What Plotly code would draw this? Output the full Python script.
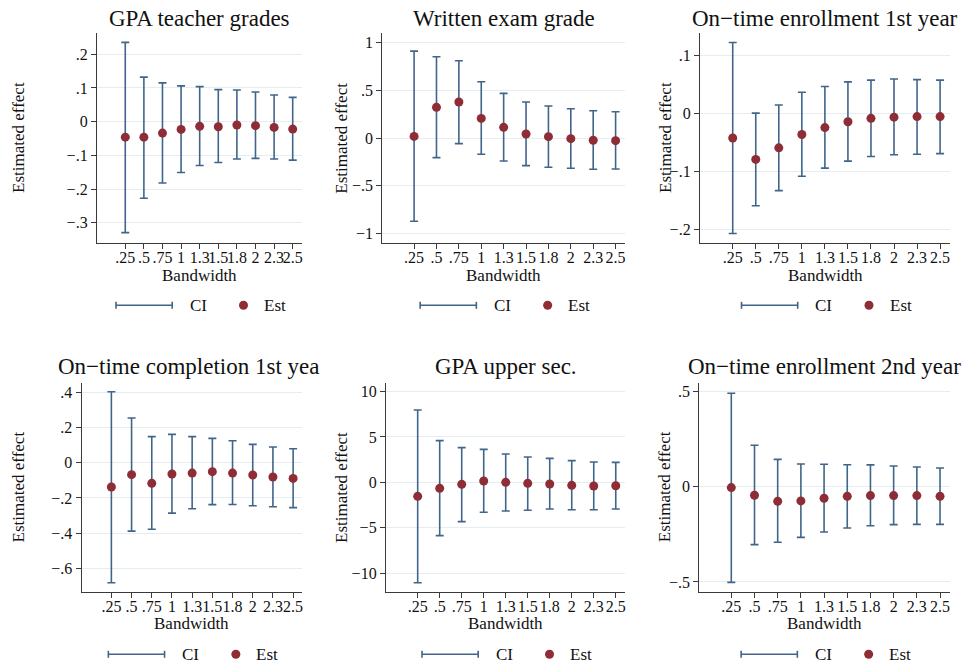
import plotly.graph_objects as go

W, H = 967, 668

bandwidth_labels = [".25", ".5", ".75", "1", "1.3", "1.5", "1.8", "2", "2.3", "2.5"]

# Panel 1: GPA teacher grades
gpa_teacher_est = [-0.046, -0.046, -0.034, -0.023, -0.014, -0.015, -0.010, -0.012, -0.017, -0.022]
gpa_teacher_lo = [-0.329, -0.227, -0.182, -0.151, -0.130, -0.121, -0.111, -0.109, -0.111, -0.114]
gpa_teacher_hi = [0.235, 0.132, 0.115, 0.106, 0.104, 0.095, 0.094, 0.088, 0.079, 0.072]

# Panel 2: Written exam grade
written_est = [0.017, 0.322, 0.378, 0.206, 0.112, 0.042, 0.014, -0.007, -0.024, -0.028]
written_lo = [-0.874, -0.206, -0.059, -0.171, -0.241, -0.290, -0.308, -0.318, -0.329, -0.325]
written_hi = [0.913, 0.853, 0.811, 0.591, 0.469, 0.378, 0.336, 0.308, 0.287, 0.276]

# Panel 3: On-time enrollment 1st year
enroll1_est = [-0.042, -0.079, -0.059, -0.036, -0.024, -0.014, -0.008, -0.006, -0.005, -0.005]
enroll1_lo = [-0.207, -0.159, -0.133, -0.108, -0.094, -0.082, -0.074, -0.071, -0.070, -0.069]
enroll1_hi = [0.123, 0.001, 0.015, 0.037, 0.047, 0.055, 0.058, 0.060, 0.059, 0.058]

# Panel 4: On-time completion 1st year
complete1_est = [-0.138, -0.068, -0.117, -0.064, -0.059, -0.051, -0.059, -0.070, -0.081, -0.089]
complete1_lo = [-0.681, -0.388, -0.378, -0.286, -0.261, -0.238, -0.237, -0.244, -0.250, -0.255]
complete1_hi = [0.403, 0.254, 0.148, 0.161, 0.148, 0.138, 0.125, 0.104, 0.089, 0.079]

# Panel 5: GPA upper sec.
gpa_upper_est = [-1.54, -0.66, -0.22, 0.15, 0.00, -0.11, -0.18, -0.33, -0.40, -0.37]
gpa_upper_lo = [-11.05, -5.87, -4.33, -3.30, -3.16, -3.08, -2.94, -3.01, -3.01, -2.94]
gpa_upper_hi = [7.96, 4.59, 3.82, 3.63, 3.12, 2.79, 2.64, 2.39, 2.24, 2.20]

# Panel 6: On-time enrollment 2nd year
enroll2_est = [-0.005, -0.045, -0.077, -0.075, -0.061, -0.051, -0.047, -0.047, -0.047, -0.051]
enroll2_lo = [-0.502, -0.304, -0.292, -0.266, -0.238, -0.217, -0.205, -0.199, -0.198, -0.198]
enroll2_hi = [0.490, 0.217, 0.143, 0.119, 0.117, 0.115, 0.114, 0.108, 0.103, 0.098]

panel_titles = ["GPA teacher grades", "Written exam grade", "On−time enrollment 1st year",
                "On−time completion 1st year", "GPA upper sec.", "On−time enrollment 2nd year"]

ytick_vals = [
    [0.2, 0.1, 0, -0.1, -0.2, -0.3],
    [1, 0.5, 0, -0.5, -1],
    [0.1, 0, -0.1, -0.2],
    [0.4, 0.2, 0, -0.2, -0.4, -0.6],
    [10, 5, 0, -5, -10],
    [0.5, 0, -0.5],
]
ytick_text = [
    [".2", ".1", "0", "−.1", "−.2", "−.3"],
    ["1", ".5", "0", "−.5", "−1"],
    [".1", "0", "−.1", "−.2"],
    [".4", ".2", "0", "−.2", "−.4", "−.6"],
    ["10", "5", "0", "−5", "−10"],
    [".5", "0", "−.5"],
]

series = [
    (gpa_teacher_est, gpa_teacher_lo, gpa_teacher_hi),
    (written_est, written_lo, written_hi),
    (enroll1_est, enroll1_lo, enroll1_hi),
    (complete1_est, complete1_lo, complete1_hi),
    (gpa_upper_est, gpa_upper_lo, gpa_upper_hi),
    (enroll2_est, enroll2_lo, enroll2_hi),
]

# layout geometry (pixels): plot area left, right, top, bottom
boxes = [
    (97, 302, 33.3, 242.7),
    (382.3, 625, 33.3, 242.7),
    (700, 950, 33.3, 242.7),
    (81.7, 302, 382.7, 591.7),
    (386, 625, 382.7, 591.7),
    (699.3, 950, 382.7, 591.7),
]
yranges = [
    [-0.359, 0.262],
    [-1.10, 1.10],
    [-0.223, 0.139],
    [-0.732, 0.454],
    [-12.04, 10.97],
    [-0.551, 0.545],
]
xranges = [
    [-1.52, 9.5],
    [-1.42, 9.42],
    [-1.42, 9.43],
    [-1.47, 9.44],
    [-1.44, 9.42],
    [-1.38, 9.43],
]
ytitle_x = [18, 340.7, 665, 18.3, 340.7, 664]

CI_COLOR = "#40658a"
EST_COLOR = "#8f2d36"
GRID_COLOR = "#e4edef"
AXIS_COLOR = "#3a3a3a"
FONT = "Liberation Serif"
TXT = "#111111"


def px(x):
    return x / W


def py(y):
    return 1 - y / H


fig = go.Figure()
annotations = []
shapes = []
layout_axes = {}
xs = list(range(len(bandwidth_labels)))

for i, ((est, lo, hi), box) in enumerate(zip(series, boxes)):
    n = i + 1
    xa = "x" if n == 1 else f"x{n}"
    ya = "y" if n == 1 else f"y{n}"
    fig.add_trace(go.Scatter(
        x=xs, y=est, mode="markers", xaxis=xa, yaxis=ya, showlegend=False,
        marker=dict(color=EST_COLOR, size=9, line=dict(width=0)),
        error_y=dict(type="data", symmetric=False,
                     array=[h - e for h, e in zip(hi, est)],
                     arrayminus=[e - l for e, l in zip(est, lo)],
                     color=CI_COLOR, thickness=1.6, width=4),
    ))
    l, r, t, b = box
    xkey = "xaxis" if n == 1 else f"xaxis{n}"
    ykey = "yaxis" if n == 1 else f"yaxis{n}"
    layout_axes[xkey] = dict(
        domain=[px(l), px(r)], anchor=ya, range=xranges[i],
        tickmode="array", tickvals=xs, ticktext=bandwidth_labels, tickangle=0,
        showgrid=False, zeroline=False, showline=True, linecolor=AXIS_COLOR, linewidth=1.3,
        ticks="outside", ticklen=5, tickcolor=AXIS_COLOR, tickwidth=1.2,
        ticklabelstandoff=-5,
        tickfont=dict(family=FONT, size=16, color=TXT),
    )
    layout_axes[ykey] = dict(
        domain=[py(b), py(t)], anchor=xa, range=yranges[i],
        tickmode="array", tickvals=ytick_vals[i], ticktext=ytick_text[i],
        showgrid=True, gridcolor=GRID_COLOR, gridwidth=1, zeroline=False,
        showline=True, linecolor=AXIS_COLOR, linewidth=1.3,
        ticks="outside", ticklen=5, tickcolor=AXIS_COLOR, tickwidth=1.2,
        tickfont=dict(family=FONT, size=16, color=TXT),
    )
    cx = (l + r) / 2
    cy = (t + b) / 2
    top_row = i < 3
    title_y = 18 if top_row else 366.7
    if i == 3:
        # title clipped at the panel's cell edge in the original
        annotations.append(dict(text="On−time completion 1st yea", x=px(56), y=py(title_y),
                                xref="paper", yref="paper", xanchor="left", yanchor="middle",
                                showarrow=False, font=dict(family=FONT, size=23, color=TXT)))
    else:
        annotations.append(dict(text=panel_titles[i], x=px(cx), y=py(title_y),
                                xref="paper", yref="paper", xanchor="center", yanchor="middle",
                                showarrow=False, font=dict(family=FONT, size=23, color=TXT)))
    # y-axis title
    annotations.append(dict(text="Estimated effect", x=px(ytitle_x[i]), y=py(cy),
                            xref="paper", yref="paper", xanchor="center", yanchor="middle",
                            textangle=-90, showarrow=False,
                            font=dict(family=FONT, size=17, color=TXT)))
    # x-axis title
    bw_y = 275 if top_row else 623.5
    annotations.append(dict(text="Bandwidth", x=px(cx), y=py(bw_y),
                            xref="paper", yref="paper", xanchor="center", yanchor="middle",
                            showarrow=False, font=dict(family=FONT, size=17, color=TXT)))
    # legend
    ly = 305.3 if top_row else 654.3
    x0, x1 = cx - 83.5, cx - 27.3
    shapes.append(dict(type="line", xref="paper", yref="paper", x0=px(x0), x1=px(x1),
                       y0=py(ly), y1=py(ly), line=dict(color=CI_COLOR, width=1.6)))
    for xe in (x0, x1):
        shapes.append(dict(type="line", xref="paper", yref="paper", x0=px(xe), x1=px(xe),
                           y0=py(ly - 3.5), y1=py(ly + 3.5), line=dict(color=CI_COLOR, width=1.6)))
    mx = cx + 44
    shapes.append(dict(type="circle", xref="paper", yref="paper",
                       x0=px(mx - 4.5), x1=px(mx + 4.5), y0=py(ly + 4.5), y1=py(ly - 4.5),
                       fillcolor=EST_COLOR, line=dict(width=0)))
    annotations.append(dict(text="CI", x=px(cx - 12), y=py(ly), xref="paper", yref="paper",
                            xanchor="left", yanchor="middle", showarrow=False,
                            font=dict(family=FONT, size=17, color=TXT)))
    annotations.append(dict(text="Est", x=px(cx + 62.5), y=py(ly), xref="paper", yref="paper",
                            xanchor="left", yanchor="middle", showarrow=False,
                            font=dict(family=FONT, size=17, color=TXT)))

fig.update_layout(
    width=W, height=H, margin=dict(l=0, r=0, t=0, b=0),
    paper_bgcolor="white", plot_bgcolor="white",
    showlegend=False, annotations=annotations, shapes=shapes,
    **layout_axes,
)

fig.write_html("out.html")
